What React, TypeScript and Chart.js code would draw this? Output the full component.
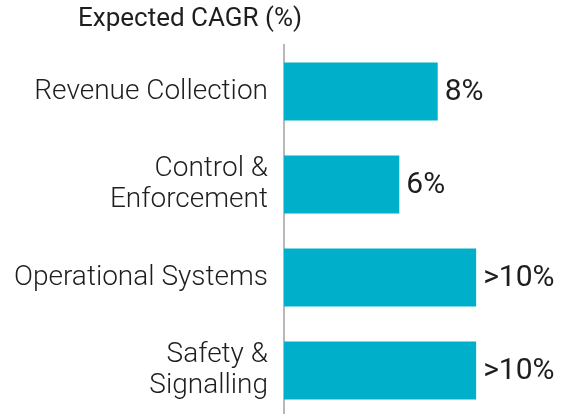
import React, { useEffect, useRef } from "react";
import { Chart, registerables } from "chart.js";

Chart.register(...registerables);

const categories: string[][] = [
  ["Revenue Collection"],
  ["Control &", "Enforcement"],
  ["Operational Systems"],
  ["Safety &", "Signalling"],
];
const cagrValues: number[] = [8, 6, 10, 10];
const valueLabels: string[] = ["8%", "6%", ">10%", ">10%"];
const chartTitle = "Expected CAGR (%)";

const BAR_COLOR = "#00AFCA";
const TEXT_COLOR = "#1e1e1e";

export default function App() {
  const canvasRef = useRef<HTMLCanvasElement | null>(null);

  useEffect(() => {
    if (!canvasRef.current) return;

    const overlayPlugin = {
      id: "overlayText",
      afterDatasetsDraw(chart: any) {
        const ctx = chart.ctx;
        ctx.save();
        ctx.fillStyle = TEXT_COLOR;
        ctx.font = "400 26px Roboto";
        ctx.textAlign = "left";
        ctx.textBaseline = "alphabetic";
        ctx.fillText(chartTitle, 78, 26);
        const meta = chart.getDatasetMeta(0);
        ctx.font = "400 30px Roboto";
        meta.data.forEach((bar: any, i: number) => {
          ctx.fillText(valueLabels[i], bar.x + 7, bar.y + 8);
        });
        ctx.restore();
      },
    };

    const chart = new Chart(canvasRef.current, {
      type: "bar",
      data: {
        labels: categories,
        datasets: [
          {
            data: cagrValues,
            backgroundColor: BAR_COLOR,
            borderWidth: 0,
            barPercentage: 0.624,
            categoryPercentage: 1,
          },
        ],
      },
      options: {
        indexAxis: "y",
        responsive: false,
        animation: false,
        layout: { padding: { top: 45, bottom: 1, left: 0, right: 17 } },
        plugins: {
          legend: { display: false },
          tooltip: { enabled: false },
          title: { display: false },
        },
        scales: {
          x: {
            display: false,
            min: 0,
            max: 14,
          },
          y: {
            afterFit: (scale: any) => {
              scale.width = 284;
              scale.paddingTop = 0;
              scale.paddingBottom = 0;
            },
            grid: { display: false, drawTicks: false },
            border: { display: true, color: "#b8b8b8", width: 2 },
            ticks: {
              color: TEXT_COLOR,
              padding: 16,
              font: { family: "Roboto", size: 28, weight: "300", lineHeight: 1.08 },
            },
          },
        },
      },
      plugins: [overlayPlugin],
    });

    return () => chart.destroy();
  }, []);

  return (
    <div
      style={{
        position: "absolute",
        left: 0,
        top: 0,
        width: 570,
        height: 414,
        overflow: "hidden",
        background: "#fff",
      }}
    >
      <canvas ref={canvasRef} width={570} height={418} style={{ display: "block" }} />
    </div>
  );
}
